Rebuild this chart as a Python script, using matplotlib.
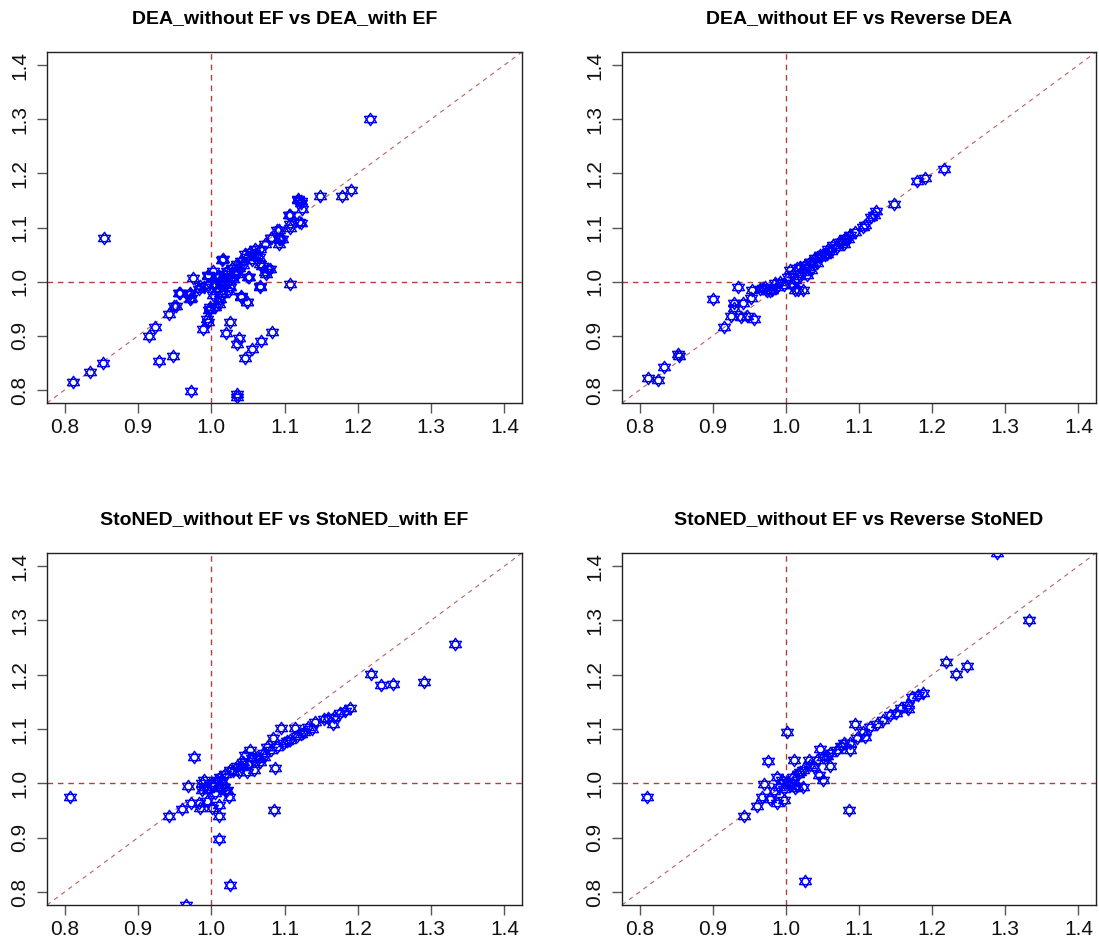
import matplotlib
matplotlib.use("Agg")
import matplotlib.pyplot as plt
from matplotlib.path import Path
import numpy as np

plt.rcParams['font.family'] = ['Liberation Sans', 'DejaVu Sans']

# ---------------- data ----------------
titles = ["DEA_without EF vs DEA_with EF",
          "DEA_without EF vs Reverse DEA",
          "StoNED_without EF vs StoNED_with EF",
          "StoNED_without EF vs Reverse StoNED"]

tick_vals = [0.8, 0.9, 1.0, 1.1, 1.2, 1.3, 1.4]
tick_labels = ["0.8", "0.9", "1.0", "1.1", "1.2", "1.3", "1.4"]

dea_x = [1.216, 0.854, 0.812, 0.834, 0.852, 0.915, 0.924, 0.929, 0.948, 0.942,
         0.952, 0.956, 0.972, 0.971, 0.975, 0.973, 0.995, 0.989, 0.995, 0.998,
         1.016, 1.025, 1.020, 1.035, 1.038, 1.035, 1.035, 1.046, 1.056, 1.068,
         1.083, 1.041, 1.049, 1.067, 1.108, 1.051, 1.067, 1.075, 1.080, 1.092,
         1.096, 1.092, 1.081, 1.107, 1.107, 1.120, 1.118, 1.123, 1.124, 1.149,
         1.179, 1.191, 1.119, 1.123, 1.106, 1.122, 1.108, 1.090, 1.094, 1.092,
         1.081, 1.074, 1.067, 1.060, 1.053, 1.046, 1.049, 1.040, 1.035, 1.028,
         1.021, 1.017, 1.010, 1.008, 1.015, 1.065, 1.069, 1.078, 1.074, 1.050,
         1.035, 1.028, 1.024, 1.017, 1.012, 1.067, 0.995, 1.003, 0.996, 0.990,
         0.983, 0.971, 0.971, 0.958, 1.008, 1.015, 1.012, 1.010, 1.005, 0.999,
         1.024, 1.026, 1.040, 1.049, 0.949, 0.997, 0.994, 1.030, 1.044, 1.058,
         1.005, 1.013, 1.020, 1.032, 1.038, 1.055, 1.062, 0.985, 1.002, 1.018]
dea_ef = [1.300, 1.080, 0.815, 0.833, 0.849, 0.899, 0.916, 0.854, 0.863, 0.941,
          0.955, 0.980, 0.969, 0.979, 1.007, 0.798, 1.012, 0.912, 0.926, 0.949,
          1.042, 0.925, 0.906, 0.885, 0.896, 0.793, 0.787, 0.859, 0.876, 0.890,
          0.907, 0.974, 0.963, 0.992, 0.996, 1.009, 1.032, 1.015, 1.023, 1.078,
          1.078, 1.096, 1.081, 1.100, 1.123, 1.110, 1.151, 1.149, 1.134, 1.159,
          1.159, 1.169, 1.152, 1.146, 1.123, 1.109, 1.106, 1.095, 1.078, 1.070,
          1.081, 1.069, 1.060, 1.060, 1.054, 1.051, 1.045, 1.039, 1.032, 1.026,
          1.020, 1.014, 1.011, 1.008, 1.040, 1.045, 1.029, 1.023, 1.017, 1.009,
          1.014, 1.008, 1.002, 0.999, 0.993, 0.991, 1.011, 1.020, 0.993, 0.990,
          0.987, 0.977, 0.968, 0.980, 0.983, 0.977, 0.968, 0.959, 0.953, 0.953,
          0.983, 0.990, 0.972, 0.963, 0.956, 0.947, 0.931, 1.005, 1.030, 1.047,
          0.996, 1.001, 1.005, 1.018, 1.026, 1.040, 1.050, 0.992, 0.975, 0.995]

rdea_x = [1.216, 1.190, 1.179, 1.148, 1.123, 1.120, 1.117, 1.108, 1.106, 1.095,
          1.088, 1.081, 1.072, 1.065, 1.058, 1.051, 1.047, 1.040, 1.033, 1.026,
          1.020, 1.015, 1.006, 1.010, 1.029, 1.070, 1.079, 1.056, 1.042, 1.035,
          1.024, 1.013, 1.017, 1.023, 1.010, 0.992, 0.988, 0.981, 0.972, 0.969,
          0.974, 0.954, 0.953, 0.934, 0.929, 0.942, 0.929, 0.925, 0.938, 0.947,
          0.957, 0.916, 0.901, 0.853, 0.854, 0.834, 0.812, 0.825, 0.985, 0.997,
          1.062, 1.045, 1.036, 1.030, 1.053, 1.076, 1.085, 1.003, 1.012, 1.020,
          0.978, 0.965]
rdea_y = [1.208, 1.192, 1.186, 1.144, 1.131, 1.123, 1.119, 1.104, 1.101, 1.092,
          1.086, 1.081, 1.074, 1.067, 1.061, 1.052, 1.049, 1.043, 1.037, 1.031,
          1.028, 1.025, 1.021, 1.015, 1.012, 1.064, 1.070, 1.052, 1.034, 1.021,
          1.018, 0.985, 0.985, 0.985, 0.994, 1.000, 0.991, 0.985, 0.991, 0.988,
          0.982, 0.985, 0.969, 0.990, 0.960, 0.960, 0.951, 0.936, 0.934, 0.937,
          0.931, 0.916, 0.968, 0.867, 0.862, 0.843, 0.822, 0.818, 0.997, 0.994,
          1.057, 1.046, 1.037, 1.027, 1.050, 1.073, 1.078, 1.008, 1.003, 1.010,
          0.983, 0.986]

stoned_x = [1.333, 1.290, 1.248, 1.232, 1.218, 1.189, 1.183, 1.176, 1.167, 1.160,
            1.154, 1.166, 1.142, 1.132, 1.126, 1.115, 1.117, 1.108, 1.095, 1.084,
            1.099, 1.090, 1.081, 1.072, 1.062, 1.056, 1.046, 1.044, 1.035, 1.026,
            1.019, 1.012, 1.008, 1.058, 1.049, 1.067, 1.087, 1.072, 1.076, 1.053,
            0.976, 0.969, 0.990, 0.992, 1.001, 1.017, 1.021, 1.024, 1.010, 1.001,
            0.994, 0.983, 0.985, 0.972, 0.960, 0.943, 1.010, 1.011, 1.025, 0.965,
            0.808, 1.085, 0.987, 1.005, 1.030, 1.040, 1.064, 1.104, 1.122, 1.137,
            0.995, 1.003, 1.012, 1.020, 0.988, 1.015, 1.038, 1.050]
stoned_ef = [1.256, 1.187, 1.183, 1.181, 1.201, 1.138, 1.134, 1.130, 1.123, 1.121,
             1.118, 1.109, 1.112, 1.104, 1.095, 1.101, 1.087, 1.080, 1.102, 1.083,
             1.074, 1.067, 1.061, 1.055, 1.049, 1.046, 1.052, 1.040, 1.031, 1.025,
             1.018, 1.012, 1.006, 1.025, 1.021, 1.040, 1.029, 1.049, 1.067, 1.061,
             1.049, 0.995, 1.006, 0.994, 1.000, 0.994, 0.988, 0.975, 0.960, 0.954,
             0.967, 0.963, 0.954, 0.964, 0.953, 0.940, 0.939, 0.897, 0.812, 0.776,
             0.974, 0.950, 0.988, 0.982, 1.022, 1.030, 1.045, 1.078, 1.090, 1.100,
             0.990, 0.997, 0.992, 0.985, 1.000, 1.005, 1.020, 1.035]

rstoned_x = [1.289, 1.333, 1.219, 1.233, 1.247, 1.188, 1.181, 1.173, 1.167, 1.158,
             1.167, 1.142, 1.133, 1.124, 1.115, 1.106, 1.108, 1.095, 1.097, 1.088,
             1.088, 1.079, 1.070, 1.061, 1.051, 1.046, 1.042, 1.033, 1.024, 1.017,
             1.010, 1.061, 1.045, 1.051, 1.031, 1.011, 1.001, 0.976, 0.988, 0.995,
             0.970, 1.006, 1.013, 1.024, 0.990, 0.997, 0.988, 0.979, 0.967, 0.960,
             0.943, 0.810, 1.087, 1.026, 1.002, 1.020, 1.038, 1.056, 1.075, 1.150,
             0.998, 1.008, 1.015, 0.984]
rstoned_y = [1.424, 1.301, 1.223, 1.201, 1.216, 1.166, 1.163, 1.158, 1.144, 1.139,
             1.136, 1.126, 1.117, 1.110, 1.104, 1.095, 1.086, 1.109, 1.083, 1.075,
             1.061, 1.075, 1.061, 1.055, 1.049, 1.064, 1.043, 1.034, 1.025, 1.018,
             1.012, 1.031, 1.015, 1.007, 1.043, 1.043, 1.095, 1.042, 1.012, 1.006,
             0.999, 0.997, 0.991, 0.994, 0.994, 0.969, 0.963, 0.972, 0.974, 0.958,
             0.939, 0.975, 0.950, 0.820, 1.003, 1.020, 1.030, 1.050, 1.068, 1.130,
             0.990, 1.000, 0.995, 0.985]

panels = [(dea_x, dea_ef), (rdea_x, rdea_y), (stoned_x, stoned_ef), (rstoned_x, rstoned_y)]

# ---------------- marker: two overlaid triangles (R pch = 11) ----------------
h = 1.0
w = 0.95
verts = [(0, h), (-w, -h * 0.5), (w, -h * 0.5), (0, h),
         (0, -h), (-w, h * 0.5), (w, h * 0.5), (0, -h)]
codes = [Path.MOVETO, Path.LINETO, Path.LINETO, Path.CLOSEPOLY] * 2
star = Path(verts, codes)

W, H = 1099, 943
fig = plt.figure(figsize=(W / 100, H / 100), dpi=100)

boxes = [(47, 52, 522, 403), (622, 52, 1096, 403),
         (47, 553, 522, 905), (622, 553, 1096, 905)]

lo, hi = 0.8 - 0.6 * 0.04, 1.4 + 0.6 * 0.04
line_col = '#A52A2A'

for (x0, y0, x1, y1), (xs, ys), title in zip(boxes, panels, titles):
    ax = fig.add_axes([x0 / W, 1 - y1 / H, (x1 - x0) / W, (y1 - y0) / H])
    ax.set_xlim(lo, hi)
    ax.set_ylim(lo, hi)
    ax.axline((1.0, 1.0), slope=1, color=line_col, lw=0.8, alpha=0.75,
              dashes=(4, 4))
    ax.axvline(1.0, color=line_col, lw=1.0, dashes=(4, 3.5), alpha=0.9)
    ax.axhline(1.0, color=line_col, lw=1.0, dashes=(4, 3.5), alpha=0.9)
    ax.plot(xs, ys, linestyle='none', marker=star, markersize=9,
            markerfacecolor='none', markeredgecolor='#0000FF',
            markeredgewidth=1.0)
    ax.set_xticks(tick_vals)
    ax.set_xticklabels(tick_labels)
    ax.set_yticks(tick_vals)
    ax.set_yticklabels(tick_labels, rotation=90, va='center')
    ax.tick_params(axis='both', direction='out', length=7, width=1,
                   color='#555555', labelsize=15, labelcolor='#111111')
    ax.tick_params(axis='x', pad=4)
    ax.tick_params(axis='y', pad=6)
    for s in ax.spines.values():
        s.set_color('#222222')
        s.set_linewidth(1.0)
    ax.set_title(title, fontsize=14, fontweight='bold', pad=21)

fig.savefig("out.png", dpi=100)
